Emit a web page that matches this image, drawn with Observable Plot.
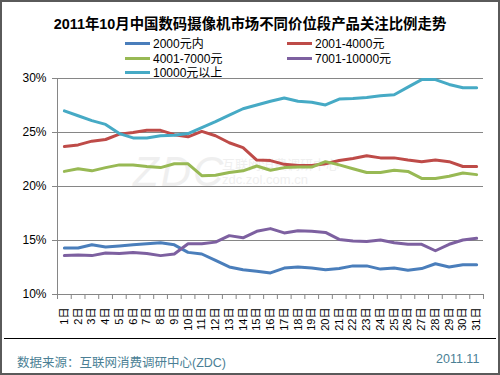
<!DOCTYPE html>
<html>
<head>
<meta charset="utf-8">
<script src="https://cdn.jsdelivr.net/npm/d3@7"></script>
<script src="https://cdn.jsdelivr.net/npm/@observablehq/plot@0.6"></script>
<style>
  body { margin: 0; background: #fff; }
  #frame { position: relative; width: 500px; height: 375px; background: #fff; overflow: hidden;
    font-family: "Liberation Sans", Arial, "Noto Sans CJK SC", sans-serif; color: #000; }
  #border { position: absolute; left: 0; top: 0; width: 500px; height: 375px; box-sizing: border-box;
    border: 2px solid #5a5a5a; z-index: 10; pointer-events: none; }
  #title { position: absolute; left: 0; width: 500px; top: 14px; text-align: center; font-size: 14.4px;
    font-weight: bold; line-height: 20px; font-family: "Liberation Sans", Arial, "Noto Sans CJK SC", sans-serif; }
  .leg { position: absolute; font-size: 12px; line-height: 14px; white-space: nowrap; z-index: 5; }
  .leg .sw { display: inline-block; width: 25px; height: 3px; vertical-align: middle; margin-right: 3px; position: relative; top: -1px; }
  #chart { position: absolute; left: 0; top: 70px; z-index: 2; }
  #wm { position: absolute; z-index: 1; color: #ececec; }
  #rule { position: absolute; left: 4px; top: 338px; width: 492px; height: 1px; background: #000; }
  #source { position: absolute; left: 17px; top: 352px; font-size: 12.5px; color: #4B7F95; white-space: nowrap; }
  #date { position: absolute; left: 436px; top: 352px; font-size: 12.5px; color: #4B7F95; }
</style>
</head>
<body>
<div id="frame">
  <div id="title">2011年10月中国数码摄像机市场不同价位段产品关注比例走势</div>
  <div id="legend"></div>
  <div id="wm">
    <div style="position:absolute;left:133px;top:148px;font-size:42px;font-style:italic;font-family:'Liberation Sans',Arial;letter-spacing:2px;color:#efefef;">ZDC</div>
    <div style="position:absolute;left:222px;top:154px;font-size:13px;color:#efefef;white-space:nowrap;">互联网消费调研中心</div>
    <div style="position:absolute;left:222px;top:172px;font-size:13px;color:#efefef;white-space:nowrap;">zdc.zol.com.cn</div>
  </div>
  <div id="chart"></div>
  <div id="rule"></div>
  <div id="source">数据来源：互联网消费调研中心(ZDC)</div>
  <div id="date">2011.11</div>
  <div id="border"></div>
</div>
<script>
// ---- data ----
const days = [1,2,3,4,5,6,7,8,9,10,11,12,13,14,15,16,17,18,19,20,21,22,23,24,25,26,27,28,29,30,31];
const seriesNames = ["2000元内", "2001-4000元", "4001-7000元", "7001-10000元", "10000元以上"];
const seriesColors = ["#4A7EBB", "#BE4B48", "#98B954", "#7D60A0", "#46AAC5"];
const yTicks = [10, 15, 20, 25, 30];

const s2000 = [14.3,14.3,14.6,14.4,14.5,14.6,14.7,14.8,14.6,13.9,13.75,13.15,12.55,12.3,12.15,12.0,12.45,12.55,12.45,12.3,12.4,12.65,12.65,12.35,12.45,12.25,12.4,12.85,12.55,12.75,12.75];
const s2001 = [23.7,23.85,24.2,24.35,24.85,25.0,25.2,25.2,24.8,24.6,25.1,24.7,24.05,23.6,22.45,22.4,22.05,21.95,21.95,22.1,22.4,22.6,22.85,22.65,22.65,22.45,22.3,22.45,22.3,21.85,21.85];
const s4001 = [21.4,21.65,21.45,21.75,22.0,22.0,21.85,21.75,22.1,22.1,21.0,21.05,21.3,21.45,21.9,21.5,21.75,21.8,21.8,22.3,22.0,21.65,21.3,21.3,21.5,21.4,20.75,20.75,20.95,21.25,21.1];
const s7001 = [13.6,13.65,13.6,13.85,13.8,13.9,13.8,13.6,13.75,14.7,14.7,14.85,15.45,15.25,15.85,16.1,15.7,15.9,15.85,15.75,15.1,14.95,14.9,15.05,14.8,14.65,14.65,14.05,14.65,15.05,15.2];
const s10000 = [27.0,26.55,26.1,25.75,24.9,24.5,24.5,24.7,24.75,24.9,25.45,26.0,26.6,27.2,27.55,27.9,28.2,27.9,27.8,27.55,28.1,28.15,28.25,28.4,28.5,29.2,29.9,29.9,29.45,29.15,29.15];

const seriesValues = [s2000, s2001, s4001, s7001, s10000];

const table = seriesNames.flatMap((name, si) =>
  days.map((d, i) => ({series: name, day: d, value: seriesValues[si][i]})));
const bounds = [...days.map(d => d - 0.5), days[days.length - 1] + 0.5];

// ---- legend ----
const legend = document.getElementById("legend");
const legPos = [[125, 37], [287, 37], [125, 52], [287, 52], [125, 66]];
seriesNames.forEach((name, i) => {
  const el = document.createElement("div");
  el.className = "leg";
  el.style.left = legPos[i][0] + "px";
  el.style.top = legPos[i][1] + "px";
  el.innerHTML = `<span class="sw" style="background:${seriesColors[i]}"></span>${name}`;
  legend.appendChild(el);
});

// ---- chart ----
const chart = Plot.plot({
  width: 500,
  height: 270,
  marginTop: 8,
  marginBottom: 46,
  marginLeft: 57,
  marginRight: 17,
  style: {background: "transparent", fontFamily: "'Liberation Sans', Arial, 'Noto Sans CJK SC', sans-serif", color: "#000", overflow: "visible"},
  x: {type: "linear", domain: [bounds[0], bounds[bounds.length - 1]]},
  y: {domain: [10, 30]},
  color: {domain: seriesNames, range: seriesColors},
  marks: [
    Plot.gridY(yTicks, {stroke: "#868686", strokeOpacity: 1}),
    Plot.ruleX([bounds[0]], {stroke: "#868686"}),
    Plot.ruleY([10], {stroke: "#868686"}),
    Plot.axisY({ticks: yTicks, tickFormat: d => d + "%", tickSize: 5, tickPadding: 6, stroke: "#868686", fill: "#000", fontSize: 12, label: null}),
    Plot.axisX({ticks: bounds, tickFormat: () => "", tickSize: 5, stroke: "#868686", label: null}),
    Plot.axisX({ticks: days, tickFormat: d => d + "日", tickSize: 0, tickPadding: 13, tickRotate: -90, fontSize: 11, fill: "#000", label: null}),
    Plot.lineY(table, {x: "day", y: "value", stroke: "series", z: "series", strokeWidth: 3})
  ]
});
document.getElementById("chart").appendChild(chart);
</script>
</body>
</html>
